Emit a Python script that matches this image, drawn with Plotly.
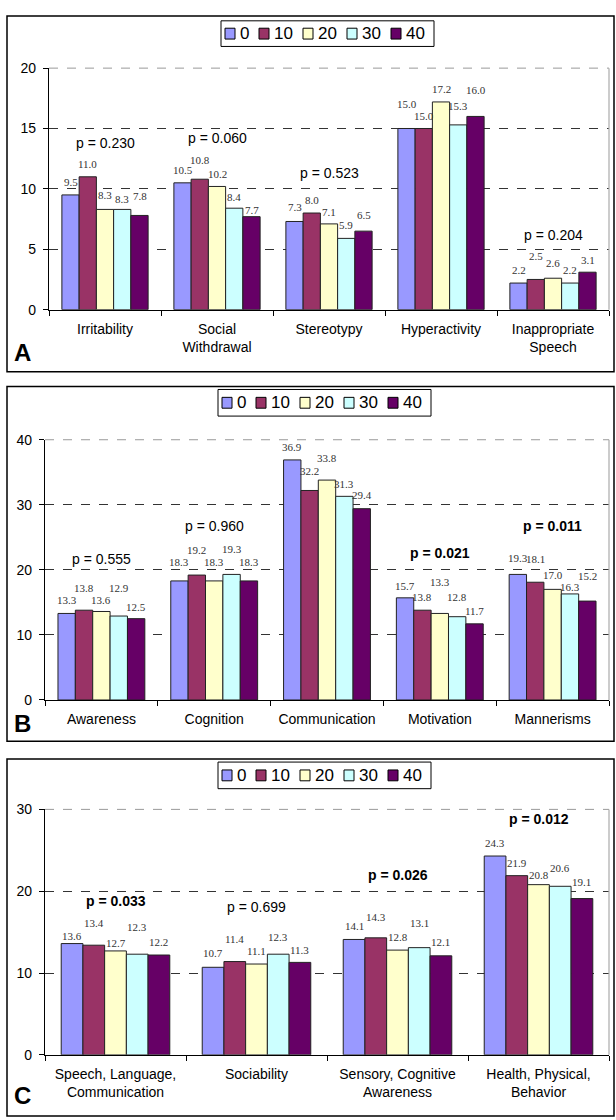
import plotly.graph_objects as go

W, H = 616, 1120

# ---------------- data ----------------
SERIES = ["0", "10", "20", "30", "40"]
COLORS = ["#9999FF", "#993366", "#FFFFCC", "#CCFFFF", "#660066"]

A_CATS = ["Irritability", "Social<br>Withdrawal", "Stereotypy", "Hyperactivity", "Inappropriate<br>Speech"]
A_0 = [9.5, 10.5, 7.3, 15.0, 2.2]
A_10 = [11.0, 10.8, 8.0, 15.0, 2.5]
A_20 = [8.3, 10.2, 7.1, 17.2, 2.6]
A_30 = [8.3, 8.4, 5.9, 15.3, 2.2]
A_40 = [7.8, 7.7, 6.5, 16.0, 3.1]
A_P = ["0.230", "0.060", "0.523", "0.666", "0.204"]
A_P_BOLD = [False, False, False, False, False]

B_CATS = ["Awareness", "Cognition", "Communication", "Motivation", "Mannerisms"]
B_0 = [13.3, 18.3, 36.9, 15.7, 19.3]
B_10 = [13.8, 19.2, 32.2, 13.8, 18.1]
B_20 = [13.6, 18.3, 33.8, 13.3, 17.0]
B_30 = [12.9, 19.3, 31.3, 12.8, 16.3]
B_40 = [12.5, 18.3, 29.4, 11.7, 15.2]
B_P = ["0.555", "0.960", "0.035", "0.021", "0.011"]
B_P_BOLD = [False, False, True, True, True]

C_CATS = ["Speech, Language,<br>Communication", "Sociability", "Sensory, Cognitive<br>Awareness", "Health, Physical,<br>Behavior"]
C_0 = [13.6, 10.7, 14.1, 24.3]
C_10 = [13.4, 11.4, 14.3, 21.9]
C_20 = [12.7, 11.1, 12.8, 20.8]
C_30 = [12.3, 12.3, 13.1, 20.6]
C_40 = [12.2, 11.3, 12.1, 19.1]
C_P = ["0.033", "0.699", "0.026", "0.012"]
C_P_BOLD = [True, False, True, True]

# ---------------- layout (label placement, px above bar top; [category][series]) ----------------
A_LIFT = [[13, 13, 14, 10, 19], [13, 19, 12, 11, 7], [14, 13, 12, 13, 16], [24, 12, 13, 19, 26], [13, 23, 15, 13, 12]]
B_LIFT = [[13, 22, 11, 28, 12], [19, 25, 19, 25, 19], [13, 19, 22, 12, 14], [12, 13, 31, 20, 13], [16, 23, 14, 7, 25]]
C_LIFT = [[8, 22, 8, 27, 13], [14, 23, 13, 17, 12], [13, 21, 13, 25, 14], [13, 13, 10, 18, 17]]


def px(x):
    return x / W


def py(y):
    return 1 - y / H


SANS = "Liberation Sans, Arial, sans-serif"
SERIF = "Liberation Serif, Times New Roman, serif"
BARGAP = 0.23

panels = [
    dict(letter="A", cats=A_CATS, vals=[A_0, A_10, A_20, A_30, A_40], p=A_P, bold=A_P_BOLD, lift=A_LIFT,
         ymax=20, dtick=5, plot=(49, 609, 61, 306), box=(7, 614, 8, 369),
         legend=(221, 13, 39), letter_y=349, p_y=[13.8, 14.2, 11.3, 20.65, 6.2]),
    dict(letter="B", cats=B_CATS, vals=[B_0, B_10, B_20, B_30, B_40], p=B_P, bold=B_P_BOLD, lift=B_LIFT,
         ymax=40, dtick=10, plot=(45, 609, 438, 702), box=(7, 614, 384, 744),
         legend=(218, 387, 414), letter_y=726, p_y=[21.7, 26.8, 41.5, 22.6, 26.8]),
    dict(letter="C", cats=C_CATS, vals=[C_0, C_10, C_20, C_30, C_40], p=C_P, bold=C_P_BOLD, lift=C_LIFT,
         ymax=30, dtick=10, plot=(45, 609, 813, 1062), box=(7, 614, 762, 1124),
         legend=(218, 765, 792), letter_y=1103, p_y=[18.8, 18.1, 22.0, 28.8]),
]

fig = go.Figure()
layout = dict(
    width=W, height=H, margin=dict(l=0, r=0, t=0, b=0),
    paper_bgcolor="white", plot_bgcolor="white",
    barmode="group", bargap=BARGAP, bargroupgap=0,
    showlegend=False,
    font=dict(family=SANS, size=14, color="#000"),
)
shapes = []
annotations = []

nser = len(SERIES)
bw = (1 - BARGAP) / nser

for k, pn in enumerate(panels):
    sfx = "" if k == 0 else str(k + 1)
    xa, ya = "x" + sfx, "y" + sfx
    x0, x1, y0, y1 = pn["plot"]
    for s, name in enumerate(SERIES):
        fig.add_trace(go.Bar(
            x=pn["cats"], y=pn["vals"][s], name=name,
            xaxis=xa, yaxis=ya,
            marker=dict(color=COLORS[s], line=dict(color="#222", width=1)),
            hoverinfo="skip",
        ))
        # value labels
        off = -(1 - BARGAP) / 2 + bw * (s + 0.5)
        for i, v in enumerate(pn["vals"][s]):
            annotations.append(dict(
                xref=xa, yref=ya, x=i + off, y=v, yshift=pn["lift"][i][s],
                text=f"{v:.1f}", showarrow=False, xanchor="center", yanchor="middle",
                font=dict(family=SERIF, size=11, color="#333")))
    layout["xaxis" + sfx] = dict(
        domain=[px(x0), px(x1)], anchor=ya,
        type="category", categoryorder="array", categoryarray=pn["cats"],
        range=[-0.5, len(pn["cats"]) - 0.5],
        showline=True, linecolor="#000", linewidth=1.2,
        ticks="outside", tickson="boundaries", ticklen=5, tickcolor="#000",
        showgrid=False, tickfont=dict(family=SANS, size=14, color="#000"),
        ticklabelstandoff=6,
    )
    layout["yaxis" + sfx] = dict(
        domain=[py(y1), py(y0)], anchor=xa,
        range=[0, pn["ymax"]], dtick=pn["dtick"], tick0=0,
        showline=True, linecolor="#000", linewidth=1.2,
        ticks="outside", ticklen=5, tickcolor="#000",
        showgrid=True, gridcolor="#333", griddash="dash", gridwidth=1,
        zeroline=False, tickfont=dict(family=SANS, size=14, color="#000"),
        ticklabelstandoff=4,
    )
    # top dashed light line and right gray frame of plot area
    shapes.append(dict(type="line", xref=xa + " domain", yref=ya + " domain",
                       x0=0, x1=1, y0=1, y1=1, line=dict(color="white", width=2), layer="above"))
    shapes.append(dict(type="line", xref=xa + " domain", yref=ya + " domain",
                       x0=0, x1=1, y0=1, y1=1, line=dict(color="#999", width=1, dash="dash"), layer="above"))
    shapes.append(dict(type="line", xref=xa + " domain", yref=ya + " domain",
                       x0=1, x1=1, y0=0, y1=1, line=dict(color="#aaa", width=1.2), layer="above"))
    # panel frame
    bx0, bx1, by0, by1 = pn["box"]
    shapes.append(dict(type="rect", xref="paper", yref="paper",
                       x0=px(bx0), x1=px(bx1), y0=py(by1), y1=py(by0),
                       line=dict(color="#000", width=1.5)))
    # legend
    lx, ly0, ly1 = pn["legend"]
    shapes.append(dict(type="rect", xref="paper", yref="paper",
                       x0=px(lx), x1=px(lx + 213), y0=py(ly1), y1=py(ly0),
                       line=dict(color="#000", width=1), fillcolor="white"))
    cy = (ly0 + ly1) / 2
    cx = lx + 4
    for s, name in enumerate(SERIES):
        shapes.append(dict(type="rect", xref="paper", yref="paper",
                           x0=px(cx), x1=px(cx + 10), y0=py(cy + 5.5), y1=py(cy - 5.5),
                           line=dict(color="#000", width=1), fillcolor=COLORS[s]))
        annotations.append(dict(xref="paper", yref="paper", x=px(cx + 13), y=py(cy),
                                xanchor="left", yanchor="middle", text=name, showarrow=False,
                                font=dict(family=SANS, size=17, color="#000")))
        cx += 13 + 10 * len(name) + 11
    # p-values
    for i, pv in enumerate(pn["p"]):
        txt = f"p = {pv}"
        if pn["bold"][i]:
            txt = f"<b>{txt}</b>"
        annotations.append(dict(xref=xa, yref=ya, x=i, y=pn["p_y"][i], text=txt,
                                showarrow=False, xanchor="center", yanchor="middle",
                                font=dict(family=SANS, size=14, color="#000")))
    # panel letter
    annotations.append(dict(xref="paper", yref="paper", x=px(12), y=py(pn["letter_y"]),
                            xanchor="left", yanchor="middle", text=f"<b>{pn['letter']}</b>",
                            showarrow=False, font=dict(family=SANS, size=24, color="#000")))

layout["shapes"] = shapes
layout["annotations"] = annotations
fig.update_layout(**layout)
fig.write_html("out.html", config={"displayModeBar": False, "staticPlot": True},
               post_script="document.body.style.margin='0';document.body.style.overflow='hidden';")
